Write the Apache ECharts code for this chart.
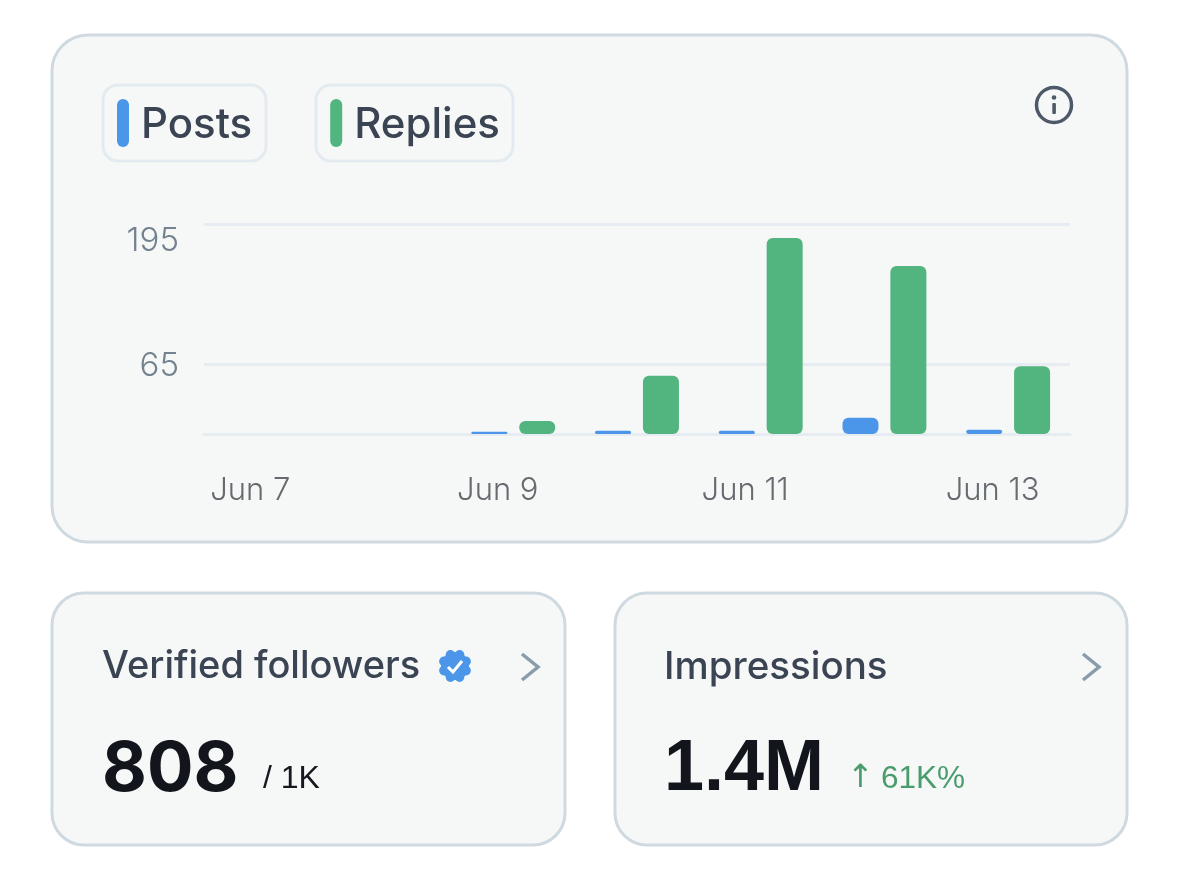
<!DOCTYPE html>
<html>
<head>
<meta charset="utf-8">
<style>html,body{margin:0;padding:0;background:#fff}#c{width:1179px;height:882px}</style>
<script src="https://cdn.jsdelivr.net/npm/echarts@6/dist/echarts.min.js"></script>
</head>
<body>
<div id="c"></div>
<script>
const categories = ['Jun 7','Jun 8','Jun 9','Jun 10','Jun 11','Jun 12','Jun 13'];
const posts = [0,0,2,3,3,15,4];
const replies = [0,0,12,54,182,156,63];
const yTicks = [0,65,195];
const yLabels = [65,195];
const seriesNames = ['Posts','Replies'];

const UI = 'Inter, "Noto Sans", sans-serif';
const NUM = '"Liberation Sans", Arial, sans-serif';
const card = (x,y,w,h,r) => ({type:'rect',z:-10,shape:{x,y,width:w,height:h,r},style:{fill:'#f6f8f8',stroke:'#cfd9e0',lineWidth:3}});
const pill = (x,y,w,h) => ({type:'rect',z:-5,shape:{x,y,width:w,height:h,r:15},style:{fill:'#f6f8f8',stroke:'#e4ebf0',lineWidth:3}});
const txt = (x,y,text,size,fill,weight,font) => ({type:'text',z:5,x,y,style:{text,fill,font:`${weight||400} ${size}px ${font||UI}`,verticalAlign:'middle'}});
const chevron = (x,y) => ({type:'polyline',z:5,shape:{points:[[x,y-13],[x+16,y],[x,y+13]]},style:{stroke:'#8a9bab',lineWidth:3.5,fill:null}});
const badgeLobes = [];
for (let i=0;i<8;i++){const a=i*Math.PI/4+Math.PI/8;
  badgeLobes.push({type:'circle',z:5,shape:{cx:455+12*Math.cos(a),cy:666+12*Math.sin(a),r:4.8},style:{fill:'#4c96ea'}});}
const yFont = {fontFamily:UI,fontSize:33,fontWeight:300,color:'#74828f'};
const legendFont = {fontFamily:UI,fontSize:42,color:'#3a4452',fontWeight:500};

const chart = echarts.init(document.getElementById('c'));
chart.setOption({
  animation:false,
  backgroundColor:'#ffffff',
  graphic:{elements:[
    card(52,35,1075,507,36),
    card(52,593,513,252,32),
    card(615,593,512,252,32),
    pill(103,85,163,76),
    pill(316,85,197,76),
    {type:'circle',z:5,shape:{cx:1054,cy:105,r:17.5},style:{fill:'none',stroke:'#4d5968',lineWidth:3.5}},
    {type:'rect',z:5,shape:{x:1052.3,y:103,width:3.6,height:11,r:1},style:{fill:'#4d5968'}},
    {type:'circle',z:5,shape:{cx:1054,cy:97.5,r:2.3},style:{fill:'#4d5968'}},
    txt(102,667,'Verified followers',38,'#3a4452',500),
    ...badgeLobes,
    {type:'circle',z:5,shape:{cx:455,cy:666,r:14},style:{fill:'#4c96ea'}},
    {type:'polyline',z:6,shape:{points:[[448,667],[453,672],[462,661]]},style:{stroke:'#ffffff',lineWidth:3,fill:null}},
    chevron(522,667),
    chevron(1083,667),
    txt(102,770,'808',69,'#12161c',700),
    txt(263,779,'/ 1K',32,'#14181f',400,NUM),
    txt(664,667,'Impressions',38.5,'#3a4452',500),
    txt(664,770,'1.4M',72,'#12161c',700,NUM),
    txt(847,779,'↑',32,'#4a9c6d',400,'"DejaVu Sans"'),
    txt(881,779,'61K%',31.5,'#4a9c6d',400,NUM)
  ]},
  legend:{
    left:117,top:99,padding:0,itemWidth:12,itemHeight:48,itemGap:78,
    data:seriesNames.map(name=>({name,icon:'path://M6 0a6 6 0 0 1 6 6v36a6 6 0 0 1-12 0V6a6 6 0 0 1 6-6z'})),
    formatter:'{t|{name}}',
    textStyle:{...legendFont,padding:[0,0,0,7],rich:{t:{...legendFont,padding:[4,0,0,0]}}},
    selectedMode:false
  },
  grid:{left:204,right:109,top:224,bottom:448,containLabel:false},
  xAxis:{
    type:'category',data:categories,
    axisLine:{show:true,lineStyle:{color:'#e6ecf1',width:3}},
    axisTick:{show:false},
    axisLabel:{interval:1,fontFamily:UI,fontSize:31,fontWeight:300,color:'#666b70',margin:41,padding:[0,31,0,0]}
  },
  yAxis:{
    type:'value',min:0,max:195,interval:65,
    axisLine:{show:false},
    axisTick:{show:false,customValues:yTicks},
    axisLabel:{
      customValues:yLabels,...yFont,margin:25,verticalAlignMaxLabel:'top',
      formatter:v=>v===yLabels[0]?`{low|${v}}`:`{high|${v}}`,
      rich:{low:{...yFont,padding:[4,0,0,0]},high:{...yFont,padding:[1,0,0,0]}}
    },
    splitLine:{show:true,lineStyle:{color:'#e6ecf1',width:3}}
  },
  series:[
    {name:seriesNames[0],type:'bar',data:posts,barWidth:36,barGap:'33%',itemStyle:{color:'#4c96ea',borderRadius:6}},
    {name:seriesNames[1],type:'bar',data:replies,barWidth:36,itemStyle:{color:'#52b47e',borderRadius:6}}
  ]
});
</script>
</body>
</html>
